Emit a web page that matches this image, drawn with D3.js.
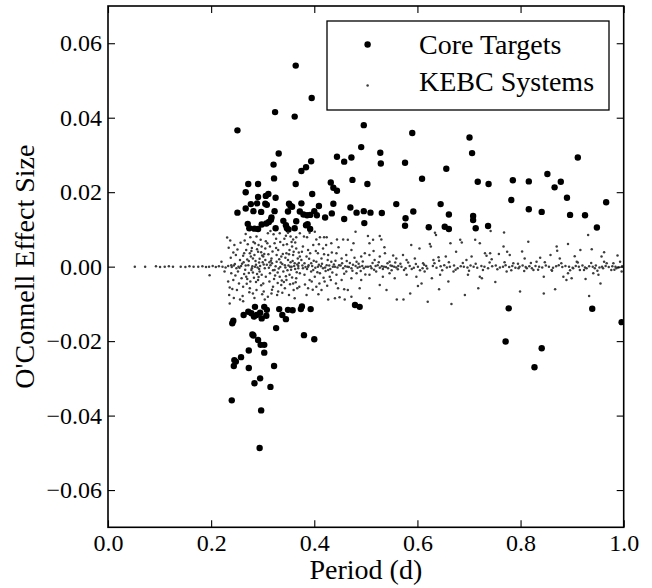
<!DOCTYPE html>
<html>
<head>
<meta charset="utf-8">
<script src="https://cdn.jsdelivr.net/npm/d3@7"></script>
<style>
  html, body { margin: 0; padding: 0; background: #fff; }
</style>
</head>
<body>
<svg id="chart" width="652" height="588"></svg>
<script>
// Axis ticks
const xTicks = [0.0, 0.2, 0.4, 0.6, 0.8, 1.0];
const yTicks = [-0.06, -0.04, -0.02, 0.0, 0.02, 0.04, 0.06];

// Core targets: [period (d), O'Connell effect size]
const coreTargets = [
  [0.364,0.0540],[0.395,0.0453],[0.324,0.0415],[0.362,0.0403],[0.251,0.0366],[0.496,0.0380],
  [0.590,0.0359],[0.701,0.0347],[0.491,0.0321],[0.331,0.0304],[0.706,0.0305],[0.528,0.0306],
  [0.444,0.0295],[0.458,0.0282],[0.472,0.0293],[0.321,0.0274],[0.394,0.0283],[0.384,0.0267],
  [0.375,0.0257],[0.529,0.0277],[0.576,0.0279],[0.911,0.0293],[0.656,0.0263],[0.322,0.0237],
  [0.364,0.0222],[0.432,0.0226],[0.437,0.0212],[0.444,0.0204],[0.474,0.0233],[0.503,0.0222],
  [0.609,0.0236],[0.717,0.0228],[0.738,0.0222],[0.785,0.0232],[0.816,0.0229],[0.852,0.0249],
  [0.866,0.0213],[0.878,0.0228],[0.890,0.0185],[0.966,0.0173],[0.782,0.0179],[0.272,0.0222],
  [0.291,0.0222],[0.267,0.0200],[0.311,0.0195],[0.306,0.0190],[0.291,0.0187],[0.325,0.0185],
  [0.396,0.0195],[0.251,0.0145],[0.267,0.0156],[0.277,0.0168],[0.289,0.0170],[0.305,0.0169],
  [0.308,0.0166],[0.282,0.0149],[0.297,0.0147],[0.323,0.0149],[0.351,0.0169],[0.354,0.0163],
  [0.357,0.0161],[0.375,0.0170],[0.409,0.0163],[0.437,0.0169],[0.470,0.0159],[0.496,0.0149],
  [0.482,0.0145],[0.509,0.0145],[0.531,0.0144],[0.559,0.0168],[0.592,0.0148],[0.645,0.0168],
  [0.816,0.0154],[0.841,0.0147],[0.896,0.0139],[0.925,0.0138],[0.349,0.0148],[0.372,0.0148],
  [0.379,0.0140],[0.386,0.0138],[0.392,0.0139],[0.400,0.0149],[0.405,0.0138],[0.434,0.0143],
  [0.577,0.0130],[0.576,0.0110],[0.661,0.0140],[0.708,0.0136],[0.708,0.0125],[0.317,0.0132],
  [0.316,0.0126],[0.312,0.0120],[0.307,0.0116],[0.298,0.0113],[0.340,0.0123],[0.365,0.0122],
  [0.387,0.0114],[0.384,0.0111],[0.421,0.0132],[0.458,0.0128],[0.497,0.0117],[0.271,0.0115],
  [0.274,0.0103],[0.284,0.0102],[0.291,0.0101],[0.325,0.0103],[0.345,0.0111],[0.347,0.0103],
  [0.350,0.0100],[0.362,0.0103],[0.392,0.0101],[0.622,0.0106],[0.653,0.0107],[0.661,0.0101],
  [0.713,0.0103],[0.737,0.0109],[0.948,0.0105],
  [0.479,-0.0103],[0.488,-0.0108],[0.777,-0.0112],[0.939,-0.0113],[0.996,-0.0149],[0.771,-0.0201],
  [0.841,-0.0219],[0.827,-0.0270],[0.285,-0.0108],[0.303,-0.0108],[0.308,-0.0116],[0.272,-0.0121],
  [0.278,-0.0125],[0.263,-0.0130],[0.288,-0.0130],[0.295,-0.0124],[0.283,-0.0134],[0.298,-0.0139],
  [0.307,-0.0132],[0.243,-0.0145],[0.241,-0.0152],[0.332,-0.0114],[0.338,-0.0130],[0.345,-0.0141],
  [0.349,-0.0116],[0.358,-0.0117],[0.374,-0.0114],[0.376,-0.0107],[0.393,-0.0114],[0.326,-0.0165],
  [0.280,-0.0182],[0.282,-0.0185],[0.291,-0.0197],[0.296,-0.0210],[0.303,-0.0210],[0.380,-0.0184],
  [0.400,-0.0195],[0.273,-0.0225],[0.303,-0.0231],[0.258,-0.0243],[0.245,-0.0251],[0.248,-0.0255],
  [0.244,-0.0267],[0.273,-0.0272],[0.322,-0.0267],[0.295,-0.0300],[0.284,-0.0313],[0.315,-0.0323],
  [0.240,-0.0359],[0.297,-0.0386],[0.294,-0.0487]
];

// KEBC systems: [period (d), O'Connell effect size]
const kebcSystems = [
  [0.052,0.0000],[0.072,0.0000],[0.093,0.0001],[0.101,-0.0001],[0.110,0.0000],[0.118,0.0001],
  [0.126,0.0000],[0.141,0.0000],[0.150,-0.0001],[0.158,0.0001],[0.166,0.0000],[0.175,0.0000],
  [0.183,0.0001],[0.190,-0.0001],[0.196,0.0000],[0.203,0.0002],[0.209,-0.0001],[0.215,0.0001],
  [0.222,0.0000],[0.228,-0.0002],[0.197,-0.0023],[0.220,0.0013],[0.226,-0.0013],
  [0.231,0.0078],[0.237,0.0070],[0.243,0.0038],[0.248,0.0031],[0.233,-0.0040],[0.236,-0.0056],
  [0.235,-0.0076],[0.236,-0.0099],[0.246,0.0007],[0.249,-0.0004],[0.252,-0.0013],[0.256,0.0018],
  [0.259,-0.0031],[0.256,-0.0088],[0.261,-0.0079],[0.250,-0.0063],[0.262,0.0029],[0.239,-0.0018],
  [0.243,-0.0036],[0.233,0.0002],[0.240,-0.0001],[0.244,0.0003],[0.253,0.0000],[0.258,0.0002],
  [0.265,0.0070],[0.276,0.0079],[0.288,0.0081],[0.268,0.0045],[0.275,0.0036],[0.281,0.0022],
  [0.291,0.0040],[0.298,0.0054],[0.301,0.0027],[0.272,0.0004],[0.278,-0.0009],[0.285,0.0000],
  [0.294,-0.0013],[0.304,-0.0004],[0.268,-0.0027],[0.275,-0.0058],[0.281,-0.0072],[0.291,-0.0036],
  [0.301,-0.0045],[0.288,-0.0063],[0.304,-0.0088],[0.298,-0.0022],[0.285,0.0063],[0.293,0.0011],
  [0.263,0.0012],[0.266,-0.0008],[0.270,0.0019],[0.273,-0.0017],[0.279,0.0050],[0.283,-0.0030],
  [0.286,0.0015],[0.289,-0.0020],[0.292,0.0058],[0.295,0.0002],[0.297,-0.0050],[0.300,0.0012],
  [0.303,0.0034],[0.306,-0.0027],[0.271,0.0060],[0.282,0.0066],[0.296,0.0072],[0.269,-0.0046],
  [0.287,-0.0041],[0.277,0.0027],[0.305,0.0049],[0.264,-0.0020],[0.280,0.0001],[0.290,-0.0002],
  [0.299,0.0030],[0.274,-0.0069],[0.302,-0.0067],
  [0.234,0.0051],[0.238,0.0024],[0.241,-0.0060],[0.245,0.0058],[0.247,-0.0024],[0.251,0.0046],
  [0.254,-0.0045],[0.257,0.0064],[0.260,0.0008],[0.262,-0.0054],[0.264,0.0036],[0.267,0.0088],
  [0.270,-0.0033],[0.273,0.0015],[0.276,-0.0040],[0.278,0.0042],[0.281,-0.0016],[0.284,0.0031],
  [0.287,0.0005],[0.289,0.0047],[0.292,-0.0028],[0.294,0.0021],[0.297,0.0039],[0.299,-0.0074],
  [0.302,0.0006],[0.305,0.0018],[0.239,0.0004],[0.255,-0.0003],[0.267,0.0003],[0.279,-0.0004],
  [0.293,-0.0006],[0.306,0.0068],[0.284,-0.0084],[0.262,-0.0093],[0.244,-0.0084],
  [0.310,0.0090],[0.315,0.0096],[0.321,0.0087],[0.333,0.0090],[0.349,0.0091],[0.354,0.0081],
  [0.359,0.0073],[0.365,0.0079],[0.372,0.0090],[0.314,0.0054],[0.323,0.0063],[0.330,0.0045],
  [0.340,0.0058],[0.346,0.0036],[0.352,0.0045],[0.359,0.0031],[0.365,0.0049],[0.372,0.0027],
  [0.317,0.0022],[0.327,0.0013],[0.336,0.0027],[0.343,0.0004],[0.349,0.0018],[0.356,0.0000],
  [0.362,0.0009],[0.369,-0.0004],[0.314,-0.0018],[0.323,-0.0009],[0.333,-0.0027],[0.340,-0.0013],
  [0.346,-0.0036],[0.352,-0.0022],[0.359,-0.0045],[0.365,-0.0031],[0.372,-0.0018],[0.320,-0.0054],
  [0.330,-0.0067],[0.343,-0.0058],[0.351,-0.0076],[0.362,-0.0085],[0.310,-0.0081],[0.317,-0.0072],
  [0.328,-0.0076],[0.336,-0.0049],[0.371,-0.0054],
  [0.308,0.0005],[0.312,-0.0003],[0.318,0.0009],[0.325,0.0001],[0.331,-0.0005],[0.338,0.0007],
  [0.344,-0.0002],[0.350,0.0003],[0.355,-0.0008],[0.361,0.0002],[0.367,0.0006],[0.311,0.0033],
  [0.319,0.0041],[0.326,0.0050],[0.334,0.0066],[0.342,0.0075],[0.347,0.0060],[0.357,0.0054],
  [0.363,0.0065],[0.370,0.0038],[0.313,-0.0040],[0.322,-0.0033],[0.329,-0.0044],[0.337,-0.0037],
  [0.345,-0.0026],[0.353,-0.0047],[0.360,-0.0063],[0.366,-0.0015],[0.316,0.0016],[0.324,-0.0024],
  [0.332,0.0020],[0.339,0.0034],[0.348,-0.0010],[0.358,0.0015],[0.364,-0.0042],[0.368,0.0022],
  [0.309,0.0063],[0.313,0.0012],[0.320,-0.0010],[0.327,0.0031],[0.329,-0.0016],[0.335,0.0011],
  [0.341,-0.0041],[0.344,0.0024],[0.351,0.0033],[0.354,0.0012],[0.357,-0.0029],[0.360,0.0040],
  [0.363,-0.0006],[0.367,-0.0058],[0.370,0.0010],[0.318,-0.0062],[0.338,-0.0070],[0.356,0.0066],
  [0.326,0.0075],[0.345,0.0083],[0.315,0.0004],[0.334,-0.0001],[0.353,0.0000],[0.369,0.0002],
  [0.380,0.0081],[0.386,0.0079],[0.391,0.0091],[0.401,0.0094],[0.404,0.0073],[0.411,0.0079],
  [0.419,0.0079],[0.424,0.0079],[0.433,0.0063],[0.378,0.0054],[0.388,0.0045],[0.398,0.0058],
  [0.407,0.0036],[0.417,0.0049],[0.427,0.0031],[0.375,0.0018],[0.385,0.0027],[0.394,0.0009],
  [0.404,0.0013],[0.414,0.0022],[0.424,0.0004],[0.433,0.0013],[0.378,-0.0004],[0.388,0.0000],
  [0.398,-0.0009],[0.407,0.0000],[0.417,-0.0004],[0.427,-0.0009],[0.436,0.0000],[0.381,-0.0022],
  [0.391,-0.0036],[0.401,-0.0027],[0.411,-0.0018],[0.420,-0.0040],[0.430,-0.0027],[0.385,-0.0076],
  [0.404,-0.0054],[0.427,-0.0088],[0.414,-0.0063],[0.394,-0.0013],
  [0.377,0.0003],[0.383,-0.0001],[0.389,0.0004],[0.396,0.0002],[0.402,-0.0003],[0.409,0.0005],
  [0.413,0.0001],[0.421,-0.0002],[0.429,0.0003],[0.392,0.0036],[0.409,0.0060],[0.423,0.0058],
  [0.382,-0.0048],[0.397,-0.0062],[0.418,-0.0030],[0.435,-0.0016],
  [0.376,0.0040],[0.381,0.0009],[0.386,-0.0006],[0.390,0.0021],[0.395,-0.0040],[0.399,0.0016],
  [0.403,0.0042],[0.406,-0.0015],[0.410,-0.0045],[0.415,0.0008],[0.419,0.0033],[0.422,-0.0012],
  [0.426,0.0018],[0.431,-0.0006],[0.434,0.0038],[0.388,-0.0058],[0.408,-0.0074],[0.425,-0.0051],
  [0.444,0.0073],[0.456,0.0073],[0.465,0.0072],[0.476,0.0063],[0.480,0.0094],[0.443,0.0036],
  [0.453,0.0022],[0.462,0.0031],[0.472,0.0045],[0.482,0.0013],[0.491,0.0027],[0.498,0.0036],
  [0.440,0.0000],[0.448,0.0004],[0.456,-0.0004],[0.464,0.0000],[0.472,-0.0004],[0.480,0.0002],
  [0.488,0.0000],[0.496,-0.0004],[0.443,-0.0022],[0.453,-0.0036],[0.462,-0.0013],[0.472,-0.0031],
  [0.482,-0.0018],[0.491,-0.0036],[0.440,-0.0085],[0.449,-0.0082],[0.459,-0.0088],[0.472,-0.0081],
  [0.446,-0.0058],[0.465,-0.0063],[0.488,-0.0058],
  [0.438,0.0006],[0.445,-0.0002],[0.451,0.0003],[0.460,0.0001],[0.467,-0.0001],[0.475,0.0005],
  [0.484,-0.0003],[0.493,0.0002],[0.500,0.0000],[0.432,-0.0036],[0.442,-0.0045],[0.458,-0.0061],
  [0.441,0.0016],[0.447,0.0052],[0.454,0.0009],[0.458,-0.0019],[0.463,0.0015],[0.469,0.0010],
  [0.474,-0.0011],[0.478,0.0024],[0.486,0.0008],[0.490,-0.0012],[0.494,0.0014],[0.499,-0.0021],
  [0.504,0.0082],[0.507,0.0063],[0.514,0.0072],[0.527,0.0082],[0.530,0.0073],[0.507,0.0031],
  [0.517,0.0018],[0.527,0.0027],[0.537,0.0036],[0.546,0.0013],[0.559,0.0022],[0.504,0.0000],
  [0.511,-0.0004],[0.519,0.0002],[0.527,-0.0003],[0.535,0.0000],[0.543,-0.0004],[0.551,0.0002],
  [0.559,-0.0002],[0.507,-0.0022],[0.520,-0.0013],[0.533,-0.0027],[0.546,-0.0018],[0.556,-0.0031],
  [0.507,-0.0085],[0.540,-0.0063],[0.560,-0.0088],[0.527,-0.0049],
  [0.509,0.0001],[0.523,0.0004],[0.531,0.0001],[0.539,-0.0001],[0.548,0.0003],[0.555,0.0000],
  [0.563,0.0002],[0.513,0.0010],[0.516,-0.0008],[0.525,0.0012],[0.533,-0.0006],[0.542,0.0009],
  [0.550,-0.0010],[0.557,0.0011],[0.562,-0.0007],[0.515,0.0042],[0.536,0.0052],[0.553,0.0030],
  [0.572,0.0031],[0.588,0.0058],[0.604,0.0049],[0.579,0.0018],[0.595,0.0022],[0.611,0.0009],
  [0.569,0.0000],[0.577,-0.0004],[0.585,0.0002],[0.593,-0.0003],[0.601,0.0000],[0.610,-0.0004],
  [0.617,0.0002],[0.573,-0.0088],[0.586,-0.0072],[0.601,-0.0052],[0.608,-0.0045],[0.620,-0.0094],
  [0.579,-0.0022],[0.598,-0.0027],[0.614,-0.0013],[0.567,0.0008],[0.574,-0.0009],[0.582,0.0011],
  [0.589,-0.0006],[0.597,0.0007],[0.605,-0.0010],[0.613,0.0005],[0.619,-0.0005],
  [0.634,0.0091],[0.636,0.0085],[0.624,0.0061],[0.626,0.0054],[0.631,0.0018],[0.641,0.0025],
  [0.642,0.0016],[0.642,-0.0061],[0.666,-0.0100],[0.692,-0.0076],[0.718,-0.0058],[0.628,-0.0031],
  [0.644,-0.0022],[0.660,-0.0040],[0.670,-0.0013],[0.683,0.0072],[0.686,0.0065],[0.664,0.0063],
  [0.675,0.0040],[0.695,0.0018],[0.705,0.0027],[0.712,0.0072],[0.721,0.0063],[0.731,0.0036],
  [0.734,0.0029],[0.741,0.0036],[0.744,0.0020],[0.742,0.0096],[0.758,0.0034],[0.767,0.0054],
  [0.768,0.0092],[0.774,0.0040],[0.779,0.0031],[0.786,0.0009],[0.799,-0.0067],[0.808,0.0022],
  [0.815,0.0067],[0.831,0.0013],[0.845,-0.0072],[0.845,-0.0027],[0.858,0.0031],[0.867,-0.0061],
  [0.870,0.0054],[0.871,0.0043],[0.876,0.0022],[0.892,0.0061],[0.889,-0.0036],[0.899,-0.0031],
  [0.909,0.0013],[0.916,0.0045],[0.926,-0.0033],[0.931,0.0085],[0.933,-0.0079],[0.938,0.0047],
  [0.941,-0.0018],[0.951,-0.0022],[0.957,0.0027],[0.962,0.0039],[0.962,0.0013],[0.980,0.0009],
  [0.993,0.0013],[0.996,-0.0013],[0.721,-0.0027],[0.725,-0.0031],[0.773,-0.0013],[0.796,-0.0004],
  [0.812,-0.0004],[0.825,-0.0009],[0.860,-0.0009],[0.883,-0.0027],[0.892,-0.0018],[0.902,-0.0004],
  [0.915,-0.0009],[0.928,-0.0004],[0.944,-0.0004],[0.960,-0.0004],[0.976,-0.0009],[0.986,-0.0004],
  [0.630,0.0002],[0.637,-0.0003],[0.645,0.0001],[0.652,0.0004],[0.657,-0.0002],[0.663,0.0000],
  [0.671,0.0003],[0.678,-0.0004],[0.684,0.0001],[0.690,0.0000],[0.697,-0.0002],[0.703,0.0003],
  [0.709,0.0000],[0.716,-0.0003],[0.724,0.0002],[0.730,0.0000],[0.737,-0.0004],[0.745,0.0001],
  [0.752,0.0003],[0.760,-0.0002],[0.766,0.0000],[0.771,0.0004],[0.778,-0.0001],[0.784,0.0002],
  [0.790,-0.0003],[0.798,0.0000],[0.804,0.0003],[0.810,-0.0001],[0.817,0.0001],[0.822,-0.0004],
  [0.829,0.0002],[0.836,0.0000],[0.842,-0.0002],[0.849,0.0003],[0.855,0.0000],[0.863,-0.0003],
  [0.869,0.0001],[0.874,0.0004],[0.881,-0.0001],[0.887,0.0002],[0.894,0.0000],[0.901,-0.0003],
  [0.907,0.0002],[0.913,0.0000],[0.920,0.0003],[0.925,-0.0002],[0.933,0.0001],[0.940,0.0000],
  [0.946,0.0003],[0.953,-0.0002],[0.958,0.0000],[0.965,0.0002],[0.971,-0.0001],[0.978,0.0001],
  [0.984,0.0000],[0.990,-0.0002],[0.997,0.0001],
  [0.633,0.0009],[0.648,-0.0010],[0.661,0.0012],[0.674,-0.0008],[0.688,0.0010],[0.700,-0.0011],
  [0.713,0.0008],[0.727,-0.0009],[0.740,0.0011],[0.755,-0.0007],[0.769,0.0012],[0.782,-0.0010],
  [0.795,0.0008],[0.807,-0.0012],[0.820,0.0010],[0.834,-0.0008],[0.847,0.0012],[0.861,-0.0011],
  [0.879,0.0009],[0.896,-0.0010],[0.911,0.0011],[0.923,-0.0009],[0.937,0.0010],[0.949,-0.0011],
  [0.967,0.0009],[0.982,-0.0008],[0.655,0.0027],[0.698,-0.0022],[0.751,-0.0041],[0.803,0.0041],
  [0.838,0.0024],[0.905,0.0028],[0.955,-0.0045],[0.988,0.0030]
];

const plot = { left: 108, right: 623.7, top: 6, bottom: 527.3 };
const serifFace = "'Liberation Serif', 'Times New Roman', serif";

const svg = d3.select("#chart");

const x = d3.scaleLinear().domain([0, 1]).range([plot.left, plot.right]);
const y = d3.scaleLinear().domain([-0.07, 0.07]).range([plot.bottom, plot.top]);

svg.append("defs").append("clipPath").attr("id", "plot-clip")
  .append("rect")
  .attr("x", plot.left).attr("y", plot.top)
  .attr("width", plot.right - plot.left).attr("height", plot.bottom - plot.top);

const marks = svg.append("g").attr("clip-path", "url(#plot-clip)");

// Core targets: larger black dots
marks.append("g").selectAll("circle")
  .data(coreTargets).join("circle")
  .attr("cx", d => x(d[0])).attr("cy", d => y(d[1]))
  .attr("r", 3.2).attr("fill", "#000");

// KEBC systems: small grey dots
marks.append("g").selectAll("circle")
  .data(kebcSystems).join("circle")
  .attr("cx", d => x(d[0])).attr("cy", d => y(d[1]))
  .attr("r", 1.25).attr("fill", "#3d3d3d");

// Axes with inward ticks on every side
const tickLen = 7;

function styleAxis(g) {
  g.select(".domain").remove();
  g.attr("font-family", null).attr("font-size", null);
  g.selectAll(".tick line").attr("stroke", "#000").attr("stroke-width", 1.1);
  g.selectAll(".tick text").attr("fill", "#000").attr("font-size", 24);
}

svg.append("g").attr("transform", `translate(0,${plot.bottom})`)
  .call(d3.axisBottom(x).tickValues(xTicks).tickFormat(d3.format(".1f"))
    .tickSize(-tickLen).tickPadding(7))
  .call(styleAxis);

svg.append("g").attr("transform", `translate(0,${plot.top})`)
  .call(d3.axisTop(x).tickValues(xTicks).tickFormat("").tickSize(-tickLen))
  .call(styleAxis);

svg.append("g").attr("transform", `translate(${plot.left},0)`)
  .call(d3.axisLeft(y).tickValues(yTicks).tickFormat(d3.format(".2f"))
    .tickSize(-tickLen).tickPadding(6))
  .call(styleAxis);

svg.append("g").attr("transform", `translate(${plot.right},0)`)
  .call(d3.axisRight(y).tickValues(yTicks).tickFormat("").tickSize(-tickLen))
  .call(styleAxis);

// Frame
svg.append("rect")
  .attr("x", plot.left).attr("y", plot.top)
  .attr("width", plot.right - plot.left).attr("height", plot.bottom - plot.top)
  .attr("fill", "none").attr("stroke", "#000").attr("stroke-width", 1.6);

// Axis titles
svg.append("text")
  .attr("x", (plot.left + plot.right) / 2).attr("y", 579)
  .attr("text-anchor", "middle").attr("font-size", 28)
  .text("Period (d)");

svg.append("text")
  .attr("transform", `translate(33.5,${(plot.top + plot.bottom) / 2}) rotate(-90)`)
  .attr("text-anchor", "middle").attr("font-size", 28)
  .text("O'Connell Effect Size");

// Legend
const legend = svg.append("g");
legend.append("rect")
  .attr("x", 327).attr("y", 21).attr("width", 282).attr("height", 89)
  .attr("fill", "#fff").attr("stroke", "#000").attr("stroke-width", 1.3);

const legendItems = [
  { label: "Core Targets", r: 3.2, color: "#000", cy: 44.5, base: 53.7 },
  { label: "KEBC Systems", r: 1.25, color: "#3d3d3d", cy: 85.5, base: 90.8 }
];
legendItems.forEach(item => {
  legend.append("circle").attr("cx", 367.6).attr("cy", item.cy)
    .attr("r", item.r).attr("fill", item.color);
  legend.append("text").attr("x", 419).attr("y", item.base)
    .attr("font-size", 28).text(item.label);
});

// Serif face on every label
svg.selectAll("text").style("font-family", serifFace);
</script>
</body>
</html>
